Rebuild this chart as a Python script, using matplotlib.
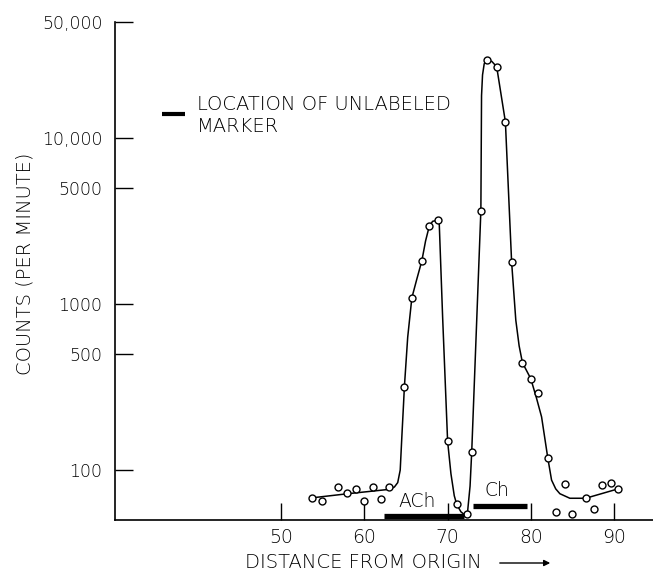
import numpy as np
import matplotlib
matplotlib.use("Agg")
import matplotlib.pyplot as plt
from matplotlib.patches import FancyArrowPatch
from matplotlib.ticker import FixedLocator, FixedFormatter, NullLocator

plt.rcParams['font.family'] = ['DejaVu Sans']
plt.rcParams['font.weight'] = 'light'

# measured points (distance, counts per minute)
pt_x = [53.7, 54.9, 56.8, 57.95, 59.0, 60.0, 61.0, 62.0, 63.0,
        64.8, 65.7, 66.9, 67.8, 68.8, 70.0, 71.1, 72.3, 72.9,
        74.0, 74.7, 75.9, 76.95, 77.7, 79.0, 80.0, 80.9, 82.05,
        83.0, 84.1, 85.0, 86.6, 87.6, 88.6, 89.6, 90.5]
pt_y = [68, 65, 79, 73, 77, 65, 79, 67, 79,
        316, 1090, 1820, 2950, 3200, 149, 62, 54, 129,
        3650, 29400, 26900, 12500, 1780, 443, 355, 293, 118,
        56, 82, 54.5, 67.6, 58, 81, 84, 77]

# hand drawn curve
curve_x = [53.7, 58.0, 63.0, 63.6, 64.0, 64.3, 64.5, 64.7, 64.8, 65.2,
           65.7, 66.3, 66.9, 67.35, 67.8, 68.2, 68.8, 69.0, 69.4, 70.0,
           70.4, 70.8, 71.1, 71.6, 72.1, 72.4, 72.7, 72.9, 74.0, 74.08,
           74.2, 74.4, 74.7, 75.3, 75.9, 76.95, 77.05, 77.7, 78.2, 78.6,
           79.0, 80.0, 80.7, 81.3, 82.05, 82.5, 83.0, 83.5, 84.7, 86.6,
           90.5]
curve_y = [68, 72, 76.5, 79, 84, 100, 160, 250, 316, 631,
           1090, 1415, 1820, 2400, 2950, 3150, 3200, 3000, 835, 149,
           95, 70, 62, 56, 53.5, 56, 80, 129, 3650, 18000,
           24000, 28000, 29400, 29000, 26900, 12500, 9600, 1780, 800, 560,
           443, 355, 270, 209, 118, 87, 77, 72, 67.6, 67.6,
           77]

# marker bars: (start, end, level)
ach_bar = (62.4, 72.0, 52.8)
ch_bar = (73.1, 79.5, 61)

y_ticks = [100, 500, 1000, 5000, 10000, 50000]
y_labels = ['100', '500', '1000', '5000', '10,000', '50,000']
x_ticks = [50, 60, 70, 80, 90]

W, H = 653, 573
fig = plt.figure(figsize=(W / 100, H / 100), dpi=100)
ax = fig.add_axes([115 / W, 1 - 520 / H, 538 / W, 498 / H])

ax.plot(curve_x, curve_y, color='black', lw=1.1, zorder=2)
ax.plot(pt_x, pt_y, 'o', ms=5, mfc='white', mec='black', mew=1.0,
        zorder=3, clip_on=False)

ax.plot(ach_bar[:2], [ach_bar[2]] * 2, color='black', lw=3.8,
        solid_capstyle='butt', zorder=4)
ax.plot(ch_bar[:2], [ch_bar[2]] * 2, color='black', lw=3.8,
        solid_capstyle='butt', zorder=4)
ax.text(66.3, 64.4, 'ACh', fontsize=13.5, ha='center', va='center')
ax.text(75.9, 75, 'Ch', fontsize=13.5, ha='center', va='center')

ax.set_yscale('log')
ax.set_ylim(50, 50000)
ax.set_xlim(30, 94.7)

ax.yaxis.set_major_locator(FixedLocator(y_ticks))
ax.yaxis.set_major_formatter(FixedFormatter(y_labels))
ax.yaxis.set_minor_locator(NullLocator())
ax.xaxis.set_major_locator(FixedLocator(x_ticks))

for s in ['top', 'right']:
    ax.spines[s].set_visible(False)
for s in ['left', 'bottom']:
    ax.spines[s].set_linewidth(1.2)

ax.tick_params(axis='y', direction='in', length=13, width=1.0,
               labelsize=12.5, pad=9)
ax.tick_params(axis='x', direction='in', length=12, width=1.0,
               labelsize=13.5, pad=6)

# legend-like note
fig.add_artist(plt.Line2D([161.7 / W, 185 / W], [1 - 114 / H] * 2,
                          color='black', lw=3, solid_capstyle='butt'))
fig.text(197 / W, 1 - 104 / H, 'LOCATION OF UNLABELED', fontsize=14,
         ha='left', va='center')
fig.text(197 / W, 1 - 126 / H, 'MARKER', fontsize=14, ha='left', va='center')

# axis titles
fig.text(245 / W, 1 - 563 / H, 'DISTANCE FROM ORIGIN', fontsize=14,
         ha='left', va='center')
fig.add_artist(FancyArrowPatch(
    (497 / W, 1 - 563 / H), (553 / W, 1 - 563 / H),
    transform=fig.transFigure, arrowstyle='-|>', mutation_scale=9,
    color='black', lw=1.0))
fig.text(25 / W, 1 - 264 / H, 'COUNTS (PER MINUTE)', fontsize=14,
         rotation=90, ha='center', va='center')

fig.savefig('out.png', dpi=100)
